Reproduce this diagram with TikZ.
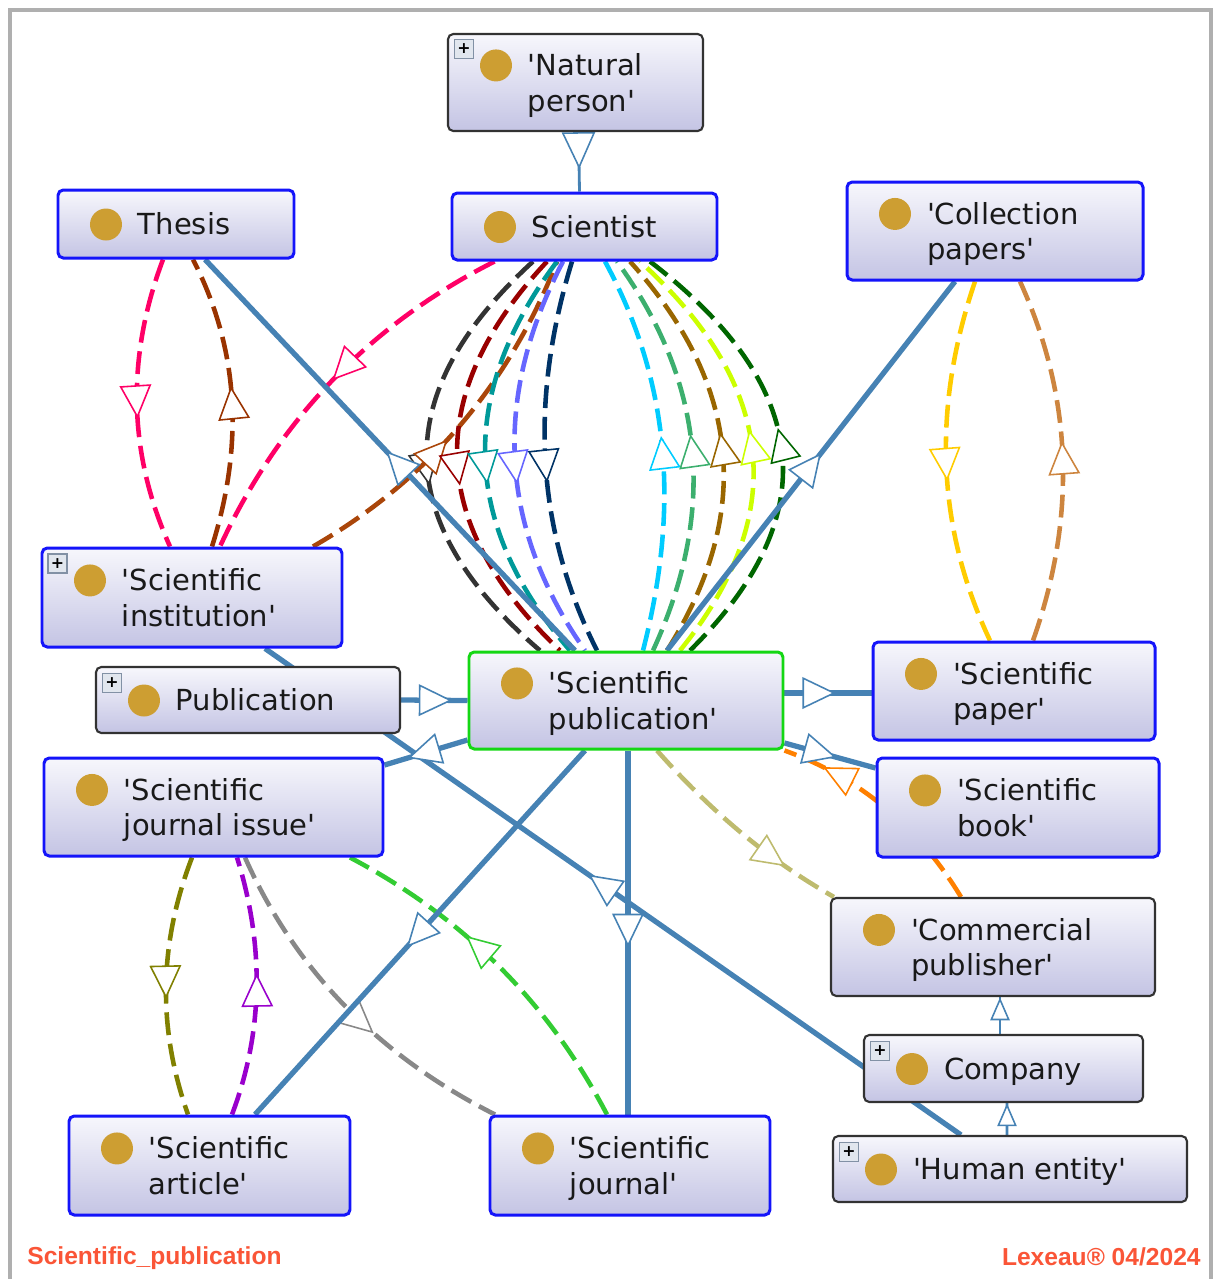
\documentclass[tikz,border=0pt]{standalone}
\usepackage{fontspec}
\setmainfont{DejaVu Sans}[Ligatures=TeXOff]
\newfontfamily\footfont{Liberation Sans}
\usepackage{tikz}
\usetikzlibrary{arrows.meta,positioning,calc,decorations.markings}
\definecolor{boxtop}{RGB}{247,247,252}
\definecolor{boxbot}{RGB}{196,196,228}
\definecolor{ownblue}{RGB}{20,20,250}
\definecolor{extgray}{RGB}{50,50,50}
\definecolor{focusgreen}{RGB}{20,215,20}
\definecolor{dotgold}{RGB}{205,158,50}
\definecolor{txtc}{RGB}{25,25,25}
\definecolor{isablue}{RGB}{70,130,180}
\definecolor{plusfill}{RGB}{225,230,238}
\definecolor{plusedge}{RGB}{130,145,165}
\definecolor{framegray}{RGB}{175,175,175}
\definecolor{footred}{RGB}{250,85,55}
\definecolor{pinkc}{RGB}{255,0,102}
\definecolor{thbrown}{RGB}{153,51,0}
\definecolor{sienna}{RGB}{170,70,10}
\definecolor{dkgray}{RGB}{51,51,51}
\definecolor{dkred}{RGB}{153,0,0}
\definecolor{tealc}{RGB}{0,153,153}
\definecolor{peri}{RGB}{102,102,255}
\definecolor{navyc}{RGB}{0,51,102}
\definecolor{skyc}{RGB}{0,204,255}
\definecolor{seag}{RGB}{60,175,110}
\definecolor{ochre}{RGB}{153,102,0}
\definecolor{limec}{RGB}{204,255,0}
\definecolor{dkgreen}{RGB}{0,102,0}
\definecolor{goldc}{RGB}{255,204,0}
\definecolor{tanc}{RGB}{205,133,63}
\definecolor{olivec}{RGB}{128,128,0}
\definecolor{purplec}{RGB}{153,0,204}
\definecolor{grayc}{RGB}{136,136,136}
\definecolor{greenc}{RGB}{51,204,51}
\definecolor{khakic}{RGB}{190,187,110}
\definecolor{orangec}{RGB}{255,128,0}
\newdimen\pxu \pxu=0.02cm
\newcommand{\golddot}{\tikz[baseline={(0,-0.36em)}]\fill[dotgold] (0,0) circle (0.32cm);}
\newcommand{\ent}[2]{\makebox[\dimexpr#1\pxu-64\pxu\relax][l]{\raisebox{-3\pxu}[\height][\depth]{%
  \begin{tabular}{@{}c@{\hspace{16\pxu}}l@{}}\golddot & #2\end{tabular}}}}
\pgfdeclarelayer{edges}
\pgfsetlayers{edges,main}

\begin{document}
\begin{tikzpicture}[
  x=0.02cm, y=0.02cm,
  cls/.style={rectangle,rounded corners=3pt,top color=boxtop,bottom color=boxbot,
              inner xsep=0pt,inner ysep=0pt,text=txtc,font=\fontsize{16.5}{20}\selectfont},
  own/.style={cls,draw=ownblue,line width=1.7pt},
  ext/.style={cls,draw=extgray,line width=1.2pt},
  focus/.style={cls,draw=focusgreen,line width=1.7pt},
  boxsize/.style 2 args={minimum width=#1*0.02cm,minimum height=#2*0.02cm},
  plusbox/.style={draw=plusedge,fill=plusfill,line width=0.6pt,minimum size=0.38cm,
                  inner sep=0pt,font=\fontsize{9}{9}\selectfont\bfseries,text=black},
  foot/.style={text=footred,inner sep=0pt,font=\footfont\bfseries\fontsize{14}{16}\selectfont},
  rel/.style={draw=#1,line width=2.6pt,dash pattern=on 13pt off 5pt},
  isrel/.style={draw=isablue,line width=3pt},
  isa/.style={draw=isablue,line width=1.6pt},
  opentri/.tip={Triangle[length=19pt,width=18pt,fill=white,line width'=0.9pt]},
  subhead/.tip={Triangle[length=13pt,width=11pt,fill=white,line width'=0.9pt]},
  bighead/.tip={Triangle[length=21pt,width=19pt,fill=white,line width'=0.9pt]},
  midtri/.style={postaction={decorate,decoration={markings,
                 mark=at position #1 with {\arrow{opentri}}}}},
  midtri/.default=0.5,
  subtri/.style={postaction={decorate,decoration={markings,
                 mark=at position #1 with {\arrow{subhead}}}}},
  toptri/.style={postaction={decorate,decoration={markings,
                 mark=at position #1 with {\arrow{bighead}}}}}
]
\useasboundingbox (0,0) rectangle (1214,-1279);
\draw[framegray,line width=2pt] (10,-1279) -- (10,-10) -- (1211,-10) -- (1211,-1279);

% classes
\node[ext,boxsize={255}{97}] (np) at (575.5,-82.5) {\ent{255}{'Natural\\ & person'}};
\node[own,boxsize={236}{68}] (thesis) at (176,-224) {\ent{236}{Thesis}};
\node[own,boxsize={265}{67}] (sci) at (584.5,-226.5) {\ent{265}{Scientist}};
\node[own,boxsize={296}{98}] (coll) at (995,-231) {\ent{296}{'Collection\\ & papers'}};
\node[own,boxsize={300}{99}] (inst) at (192,-597.5) {\ent{300}{'Scientific\\ & institution'}};
\node[ext,boxsize={304}{66}] (pub) at (248,-700) {\ent{304}{Publication}};
\node[focus,boxsize={314}{97}] (sp) at (626,-700.5) {\ent{314}{'Scientific\\ & publication'}};
\node[own,boxsize={282}{98}] (paper) at (1014,-691) {\ent{282}{'Scientific\\ & paper'}};
\node[own,boxsize={339}{98}] (issue) at (213.5,-807) {\ent{339}{'Scientific\\ & journal issue'}};
\node[own,boxsize={282}{99}] (book) at (1018,-807.5) {\ent{282}{'Scientific\\ & book'}};
\node[ext,boxsize={324}{98}] (comm) at (993,-947) {\ent{324}{'Commercial\\ & publisher'}};
\node[ext,boxsize={279}{67}] (comp) at (1003.5,-1068.5) {\ent{279}{Company}};
\node[ext,boxsize={354}{66}] (human) at (1010,-1169) {\ent{354}{'Human entity'}};
\node[own,boxsize={281}{99}] (article) at (209.5,-1165.5) {\ent{281}{'Scientific\\ & article'}};
\node[own,boxsize={280}{99}] (journal) at (630,-1165.5) {\ent{280}{'Scientific\\ & journal'}};

% expand markers
\node[plusbox] (np-x) at ($(np.north west)+(17,-16)$) {+};
\node[plusbox] (inst-x) at ($(inst.north west)+(17,-17)$) {+};
\node[plusbox] (pub-x) at ($(pub.north west)+(17,-17)$) {+};
\node[plusbox] (comp-x) at ($(comp.north west)+(17,-17)$) {+};
\node[plusbox] (human-x) at ($(human.north west)+(17,-17)$) {+};

\node[foot,anchor=west] (title) at (27,-1258) {Scientific\_publication};
\node[foot,anchor=east] (stamp) at (1201,-1257) {Lexeau® 04/2024};

\begin{pgfonlayer}{edges}
% object properties
\draw[rel=pinkc,midtri=.55] ($(thesis.south)+(-13,0)$) .. controls (127,-355) and (127,-451) .. ($(inst.north)+(-22,0)$);
\draw[rel=thbrown,midtri=.55] ($(inst.north)+(20,0)$) .. controls (242,-451) and (242,-355) .. ($(thesis.south)+(17,0)$);
\draw[rel=pinkc,midtri=.5] ($(sci.south)+(-90,0)$) .. controls (369,-325) and (278,-421) .. ($(inst.north)+(28,0)$);
\draw[rel=dkgray,midtri=.56] ($(sci.south)+(-51.5,0)$) .. controls (390,-392) and (390,-522) .. ($(sp.north)+(-86,0)$);
\draw[rel=sienna,midtri=.45] ($(inst.north)+(121,0)$) .. controls (427,-481) and (509,-385) .. ($(sci.south)+(-27.5,0)$);
\draw[rel=dkred,midtri=.56] ($(sci.south)+(-37.5,0)$) .. controls (425,-392) and (425,-522) .. ($(sp.north)+(-66,0)$);
\draw[rel=tealc,midtri=.56] ($(sci.south)+(-27.5,0)$) .. controls (459,-392) and (459,-522) .. ($(sp.north)+(-56,0)$);
\draw[rel=peri,midtri=.56] ($(sci.south)+(-21.5,0)$) .. controls (495,-392) and (495,-522) .. ($(sp.north)+(-41,0)$);
\draw[rel=navyc,midtri=.56] ($(sci.south)+(-12.5,0)$) .. controls (532,-392) and (532,-522) .. ($(sp.north)+(-29,0)$);
\draw[rel=skyc,midtri=.54] ($(sp.north)+(17,0)$) .. controls (676,-522) and (676,-392) .. ($(sci.south)+(20.5,0)$);
\draw[rel=seag,midtri=.54] ($(sp.north)+(27,0)$) .. controls (712,-522) and (712,-392) .. ($(sci.south)+(32.5,0)$);
\draw[rel=ochre,midtri=.54] ($(sp.north)+(41,0)$) .. controls (748,-522) and (748,-392) .. ($(sci.south)+(45.5,0)$);
\draw[rel=limec,midtri=.54] ($(sp.north)+(54,0)$) .. controls (784,-522) and (784,-392) .. ($(sci.south)+(55.5,0)$);
\draw[rel=dkgreen,midtri=.54] ($(sp.north)+(64,0)$) .. controls (820,-522) and (820,-392) .. ($(sci.south)+(65.5,0)$);
\draw[rel=goldc,midtri=.55] ($(coll.south)+(-20,0)$) .. controls (934,-402) and (934,-522) .. ($(paper.north)+(-24,0)$);
\draw[rel=tanc,midtri=.55] ($(paper.north)+(19,0)$) .. controls (1075,-522) and (1075,-402) .. ($(coll.south)+(25,0)$);
\draw[rel=olivec,midtri=.55] ($(issue.south)+(-21.5,0)$) .. controls (158,-946) and (158,-1030) .. ($(article.north)+(-21.5,0)$);
\draw[rel=purplec,midtri=.55] ($(article.north)+(22.5,0)$) .. controls (264,-1030) and (264,-944) .. ($(issue.south)+(23.5,0)$);
\draw[rel=grayc,midtri=.6] ($(issue.south)+(31.5,0)$) .. controls (296,-972) and (381,-1057) .. ($(journal.north)+(-135,0)$);
\draw[rel=greenc,midtri=.62] ($(journal.north)+(-23,0)$) .. controls (548,-1002) and (463,-917) .. ($(issue.south)+(136.5,0)$);
\draw[rel=khakic,midtri=.75] ($(sp.south)+(31,0)$) .. controls (708,-808) and (765,-858) .. ($(comm.north west)+(4,0)$);
\draw[rel=orangec,midtri=.82] ($(comm.north)+(-32,0)$) .. controls (919,-828) and (861,-778) .. (sp.south east);
% class links
\draw[isrel,midtri=.51] ($(sp.north)+(-51,0)$) -- ($(thesis.south)+(29,0)$);
\draw[isrel,midtri=.535] ($(sp.north)+(41,0)$) -- ($(coll.south)+(-40,0)$);
\draw[isrel,midtri=.535] ($(human.north)+(-49,0)$) -- ($(inst.south)+(73,0)$);
\draw[isrel,midtri=.54] ($(sp.south)+(-41,0)$) -- ($(article.north)+(45.5,0)$);
\draw[isrel,midtri=.54] ($(sp.south)+(2,0)$) -- ($(journal.north)+(-2,0)$);
\draw[isrel,midtri=.72] ($(sp.west)+(0,-39.5)$) -- ($(issue.east)+(0,42)$);
\draw[isrel,midtri=.77] (pub.east) -- (sp.west);
\draw[isrel,midtri=.59] ($(sp.east)+(0,7.5)$) -- ($(paper.west)+(0,-2)$);
\draw[isrel,midtri=.57] ($(sp.east)+(0,-42.5)$) -- ($(book.west)+(0,39.5)$);
% subclass links
\draw[isa,toptri=0.74cm] ($(np.south)+(3,0)$) -- ($(sci.north)+(-5,0)$);
\draw[isa,subtri=.99] ($(comp.north)+(-3.5,0)$) -- ($(comm.south)+(7,0)$);
\draw[isa,subtri=.99] ($(human.north)+(-3,0)$) -- ($(comp.south)+(3.5,0)$);
\end{pgfonlayer}
\end{tikzpicture}
\end{document}
